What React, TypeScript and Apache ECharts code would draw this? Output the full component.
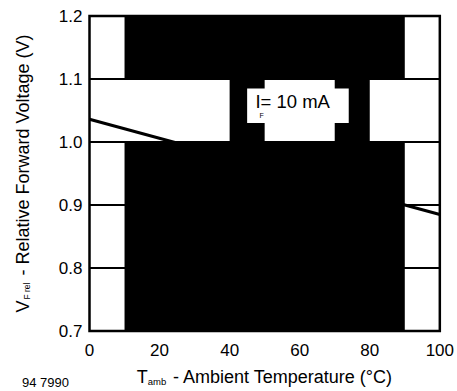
import React, { useEffect, useRef } from "react";
import * as echarts from "echarts";

// Curve: relative forward voltage vs ambient temperature
const TEMP = [0, 100];
const VF_REL = [1.036, 0.885];

// Axis ranges / ticks
const X_MIN = 0;
const X_MAX = 100;
const X_STEP = 20;
const Y_MIN = 0.7;
const Y_MAX = 1.2;
const Y_STEP = 0.1;

// Solid black filled regions (data coords)
const FILL_X0 = [10, 10, 40, 70];
const FILL_X1 = [90, 90, 50, 80];
const FILL_Y0 = [1.1, 0.7, 1.0, 1.0];
const FILL_Y1 = [1.2, 1.0, 1.1, 1.1];

// White label box
const BOX_X0 = [45];
const BOX_X1 = [74];
const BOX_Y0 = [1.03];
const BOX_Y1 = [1.085];

// Annotation
const NOTE_AT = [58, 1.064];
const NOTE_MAIN = "I= 10 mA";
const NOTE_SUB = "F";
const FIG_ID = "94 7990";

const FONT = "'Liberation Sans', Arial, sans-serif";

export default function App() {
  const ref = useRef<HTMLDivElement>(null);
  useEffect(() => {
    if (!ref.current) return;
    const chart = echarts.init(ref.current, undefined, { renderer: "svg" });
    const fill = FILL_X0.map((x0, i) => [
      { xAxis: x0, yAxis: FILL_Y0[i] },
      { xAxis: FILL_X1[i], yAxis: FILL_Y1[i] },
    ]);
    const box = BOX_X0.map((x0, i) => [
      { xAxis: x0, yAxis: BOX_Y0[i] },
      { xAxis: BOX_X1[i], yAxis: BOX_Y1[i] },
    ]);
    chart.setOption({
      animation: false,
      backgroundColor: "#fff",
      textStyle: { fontFamily: FONT },
      grid: {
        left: 89.5,
        right: 16.5,
        top: 16,
        bottom: 58,
        show: true,
        borderColor: "#000",
        borderWidth: 2.5,
        backgroundColor: "transparent",
      },
      xAxis: {
        type: "value",
        min: X_MIN,
        max: X_MAX,
        interval: X_STEP,
        axisLine: { show: false },
        axisTick: { show: false },
        splitLine: { show: false },
        axisLabel: { color: "#000", fontSize: 17, fontFamily: FONT, margin: 11 },
        name: "{t|T}{s|amb}{t| - Ambient Temperature (°C)}",
        nameLocation: "middle",
        nameGap: 37,
        nameTextStyle: {
          rich: {
            t: { fontSize: 18, color: "#000", fontFamily: FONT, verticalAlign: "bottom" },
            s: { fontSize: 9.5, color: "#000", fontFamily: FONT, verticalAlign: "bottom", padding: [0, 1, 0, 0] },
          },
        },
      },
      yAxis: {
        type: "value",
        min: Y_MIN,
        max: Y_MAX,
        interval: Y_STEP,
        axisLine: { show: false },
        axisTick: { show: false },
        splitLine: { show: true, lineStyle: { color: "#000", width: 2 } },
        axisLabel: {
          color: "#000",
          fontSize: 17,
          fontFamily: FONT,
          margin: 7,
          formatter: (v: number) => v.toFixed(1),
        },
        name: "{t|V}{s|F rel}{t| - Relative Forward Voltage (V)}",
        nameLocation: "middle",
        nameRotate: 90,
        nameGap: 58,
        nameTextStyle: {
          rich: {
            t: { fontSize: 18, color: "#000", fontFamily: FONT, verticalAlign: "bottom" },
            s: { fontSize: 8.5, color: "#000", fontFamily: FONT, verticalAlign: "bottom", padding: [0, 2, 0, 1] },
          },
        },
      },
      series: [
        {
          type: "line",
          data: TEMP.map((t, i) => [t, VF_REL[i]]),
          showSymbol: false,
          symbol: "none",
          lineStyle: { color: "#000", width: 3 },
          silent: true,
          z: 2,
          markArea: {
            silent: true,
            itemStyle: { color: "#000", opacity: 1, borderWidth: 0 },
            label: { show: false },
            emphasis: { disabled: true },
            data: fill,
          },
        },
        {
          type: "line",
          data: [],
          silent: true,
          z: 5,
          markArea: {
            silent: true,
            itemStyle: { color: "#fff", opacity: 1, borderWidth: 0 },
            label: { show: false },
            emphasis: { disabled: true },
            data: box,
          },
          markPoint: {
            silent: true,
            symbol: "circle",
            symbolSize: 0,
            data: [
              {
                coord: NOTE_AT,
                label: {
                  show: true,
                  position: "inside",
                  formatter: NOTE_MAIN,
                  color: "#000",
                  fontSize: 18.5,
                  fontFamily: FONT,
                  align: "center",
                  verticalAlign: "middle",
                },
              },
              {
                coord: NOTE_AT,
                label: {
                  show: true,
                  position: "inside",
                  formatter: NOTE_SUB,
                  color: "#000",
                  fontSize: 7,
                  fontFamily: FONT,
                  align: "center",
                  verticalAlign: "middle",
                  offset: [-31, 14],
                },
              },
            ],
          },
        },
      ],
      graphic: [
        {
          type: "text",
          left: 22,
          top: 376,
          style: { text: FIG_ID, fill: "#000", fontSize: 13, fontFamily: FONT },
        },
      ],
    });
    return () => chart.dispose();
  }, []);
  return <div ref={ref} style={{ width: 457, height: 391, position: "absolute", left: 0, top: 0 }} />;
}
